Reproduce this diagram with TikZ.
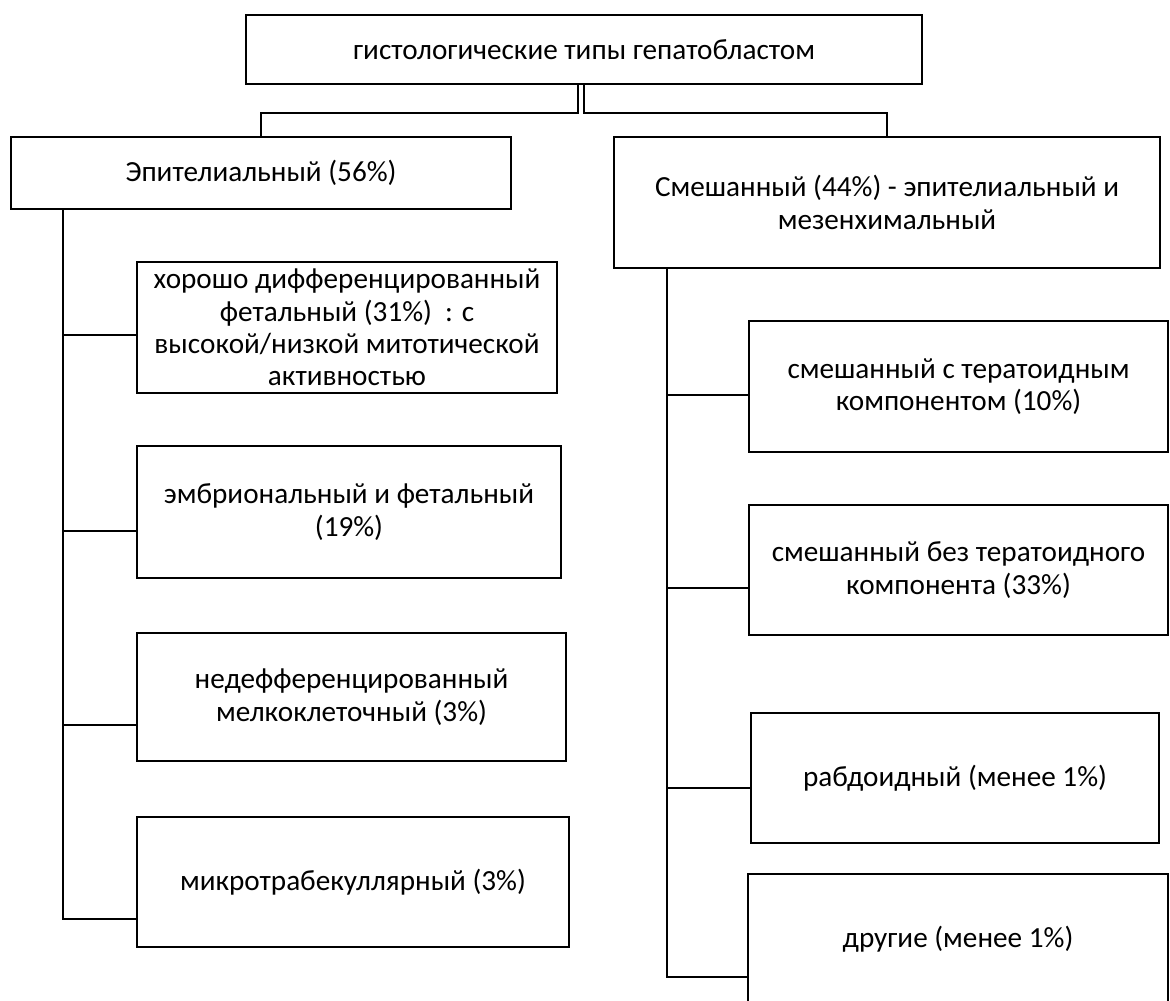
\documentclass[tikz,border=0pt]{standalone}
\usepackage{fontspec}
\setmainfont{Carlito}
\tikzset{
	box/.style = {draw, line width = 1pt, align = center, inner sep = 0pt, font = \fontsize{14.6}{16.2}\selectfont},
	link/.style = {line width = 0.9pt}
}
\begin{document}
\begin{tikzpicture} [x = 0.5pt, y = -0.5pt]
	\useasboundingbox (0,0) rectangle (1170,1000);
	\node [box, minimum width = 338pt, minimum height = 34.5pt] (top) at (584,49.5) {гистологические типы гепатобластом};
	\node [box, minimum width = 250pt, minimum height = 36pt] (epi) at (261,173) {Эпителиальный (56\%)};
	\node [box, minimum width = 273pt, minimum height = 65.5pt] (mix) at (887,202.5) {Смешанный (44\%) - эпителиальный и\\мезенхимальный};
	\node [box, minimum width = 210pt, minimum height = 65.5pt] (epi1) at (347,327.5) {хорошо дифференцированный\\фетальный (31\%)\ \ : с\\высокой/низкой митотической\\активностью};
	\node [box, minimum width = 212pt, minimum height = 66pt] (epi2) at (349,512) {эмбриональный и фетальный\\(19\%)};
	\node [box, minimum width = 214.5pt, minimum height = 64pt] (epi3) at (351.5,697) {недефференцированный\\мелкоклеточный (3\%)};
	\node [box, minimum width = 216pt, minimum height = 65pt] (epi4) at (353,882) {микротрабекуллярный (3\%)};
	\node [box, minimum width = 209.5pt, minimum height = 65.5pt] (mix1) at (958.5,386.5) {смешанный с тератоидным\\компонентом (10\%)};
	\node [box, minimum width = 209.5pt, minimum height = 65pt] (mix2) at (958.5,570) {смешанный без тератоидного\\компонента (33\%)};
	\node [box, minimum width = 204pt, minimum height = 65pt] (mix3) at (955,778) {рабдоидный (менее 1\%)};
	\node [box, minimum width = 210pt, minimum height = 65pt] (mix4) at (958,939) {другие (менее 1\%)};
	\coordinate (lt) at (63,919);
	\coordinate (rt) at (667,977);
	\draw [link] ([xshift = -3pt]top.south) -- ([xshift = -3pt]top.south |- 0,113) -| (epi.north);
	\draw [link] (top.south) -- (top.south |- 0,113) -| (mix.north);
	\draw [link] (epi.south -| lt) -- (lt) -- (lt -| epi4.west);
	\draw [link] (mix.south -| rt) -- (rt) -- (rt -| mix4.west);
	\draw [link] (lt |- 0,335) -- (epi1.west |- 0,335);
	\draw [link] (lt |- 0,531) -- (epi2.west |- 0,531);
	\draw [link] (lt |- 0,725) -- (epi3.west |- 0,725);
	\draw [link] (rt |- 0,395) -- (mix1.west |- 0,395);
	\draw [link] (rt |- 0,588) -- (mix2.west |- 0,588);
	\draw [link] (rt |- 0,788) -- (mix3.west |- 0,788);
\end{tikzpicture}
\end{document}
